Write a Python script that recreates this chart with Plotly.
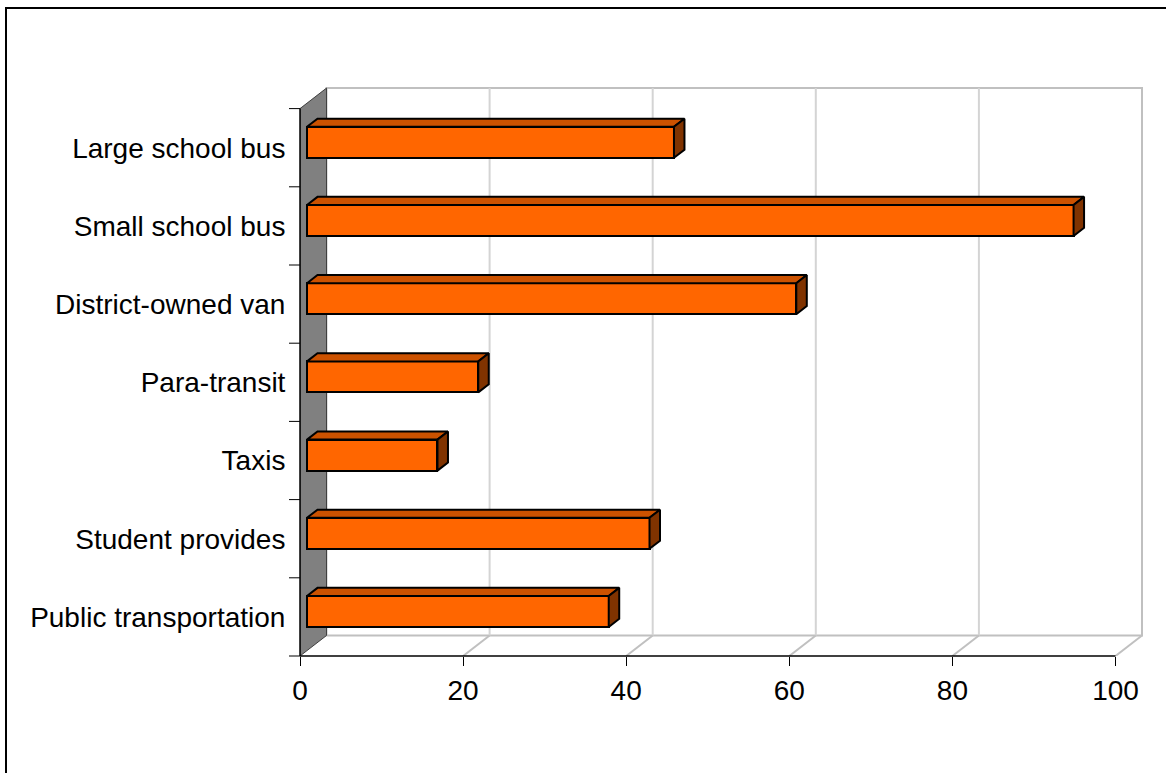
import plotly.graph_objects as go

# ---- data -------------------------------------------------------------
categories = [
    "Public transportation",
    "Student provides",
    "Taxis",
    "Para-transit",
    "District-owned van",
    "Small school bus",
    "Large school bus",
]
values = [37, 42, 16, 21, 60, 94, 45]
x_ticks = [0, 20, 40, 60, 80, 100]
x_max = 100

# ---- geometry of the pseudo-3D frame ---------------------------------
W, H = 1166, 773
L, T, B = 300, 85, 117
KX = 8.155            # px per value unit on the front plane
KY = 78.2             # px per category slot
DEPTH_X, DEPTH_Y = 26.5, 20.5   # wall depth in px
pw = 845
ph = H - T - B
R = W - L - pw

n = len(categories)
dx = DEPTH_X / KX
dy = DEPTH_Y / KY
x_range = [0, pw / KX]
y_range = [0, ph / KY]

# bars occupy a slice of the depth
F_FRONT, F_BACK = 0.264, 0.66
bar_h = 31 / KY
bx0, by0 = F_FRONT * dx, F_FRONT * dy
bdx, bdy = (F_BACK - F_FRONT) * dx, (F_BACK - F_FRONT) * dy

FRONT = "#FF6600"
TOP = "#CC5200"
SIDE = "#803300"
WALL = "#808080"
GRID = "#D4D4D4"
EDGE = "#C0C0C0"
FONT = dict(family="Liberation Sans, Arial, sans-serif", size=28, color="black")

fig = go.Figure()

# front faces of the bars
y_mid = [i + 0.5 + by0 for i in range(n)]
fig.add_trace(go.Bar(
    orientation="h",
    y=y_mid,
    x=values,
    base=[bx0] * n,
    width=bar_h,
    marker=dict(color=FRONT, line=dict(color="black", width=2)),
    hoverinfo="skip",
    showlegend=False,
))

# top and end faces
tx, ty, sx, sy = [], [], [], []
for i, v in enumerate(values):
    yt = y_mid[i] + bar_h / 2
    yb = y_mid[i] - bar_h / 2
    xe = bx0 + v
    tx += [bx0, xe, xe + bdx, bx0 + bdx, bx0, None]
    ty += [yt, yt, yt + bdy, yt + bdy, yt, None]
    sx += [xe, xe, xe + bdx, xe + bdx, xe, None]
    sy += [yb, yt, yt + bdy, yb + bdy, yb, None]

fig.add_trace(go.Scatter(x=tx, y=ty, mode="lines", fill="toself", fillcolor=TOP,
                         line=dict(color="black", width=2), hoverinfo="skip",
                         showlegend=False))
fig.add_trace(go.Scatter(x=sx, y=sy, mode="lines", fill="toself", fillcolor=SIDE,
                         line=dict(color="black", width=2), hoverinfo="skip",
                         showlegend=False))

shapes = []
# back wall
shapes.append(dict(type="rect", xref="x", yref="y", x0=dx, x1=dx + x_max,
                   y0=dy, y1=n + dy, fillcolor="white",
                   line=dict(color=EDGE, width=2), layer="below"))
# gridlines on back wall and floor
for v in x_ticks[1:-1]:
    shapes.append(dict(type="line", xref="x", yref="y", x0=v + dx, x1=v + dx,
                       y0=dy, y1=n + dy, line=dict(color=GRID, width=2), layer="below"))
for v in x_ticks[1:]:
    shapes.append(dict(type="line", xref="x", yref="y", x0=v, x1=v + dx,
                       y0=0, y1=dy, line=dict(color=EDGE, width=2), layer="below"))
# left side wall
shapes.append(dict(type="path", xref="x", yref="y",
                   path=f"M 0 0 L 0 {n} L {dx} {n + dy} L {dx} {dy} Z",
                   fillcolor=WALL, line=dict(color="#404040", width=1), layer="below"))
# axis lines
shapes.append(dict(type="line", xref="x", yref="paper", x0=0, x1=x_max, y0=0, y1=0,
                   line=dict(color="black", width=1.5)))
shapes.append(dict(type="line", xref="paper", yref="paper", x0=0, x1=0,
                   y0=0, y1=n * KY / ph, line=dict(color="black", width=1.5)))
# category boundary ticks
for i in range(n + 1):
    yp = i * KY / ph
    shapes.append(dict(type="line", xref="paper", yref="paper", x0=-11 / pw, x1=0,
                       y0=yp, y1=yp, line=dict(color="black", width=1)))
# chart border
shapes.append(dict(type="rect", xref="paper", yref="paper",
                   x0=(6 - L) / pw, x1=(W + 20 - L) / pw,
                   y0=(H - B - (H + 20)) / ph, y1=(H - B - 8) / ph,
                   line=dict(color="black", width=2), fillcolor="rgba(0,0,0,0)"))

fig.update_layout(
    width=W, height=H,
    margin=dict(l=L, r=R, t=T, b=B, pad=0),
    paper_bgcolor="white", plot_bgcolor="rgba(0,0,0,0)",
    font=FONT,
    bargap=0,
    shapes=shapes,
    xaxis=dict(range=x_range, tickvals=x_ticks, ticktext=[str(v) for v in x_ticks],
               ticks="outside", ticklen=9, tickcolor="black", tickwidth=1,
               showgrid=False, zeroline=False, showline=False, fixedrange=True,
               tickfont=FONT),
    yaxis=dict(range=y_range, tickvals=[i + 0.5 for i in range(n)], ticktext=categories,
               ticks="outside", ticklen=8, tickcolor="rgba(0,0,0,0)",
               showgrid=False, zeroline=False, showline=False, fixedrange=True,
               tickfont=FONT),
)

fig.write_html("out.html")
